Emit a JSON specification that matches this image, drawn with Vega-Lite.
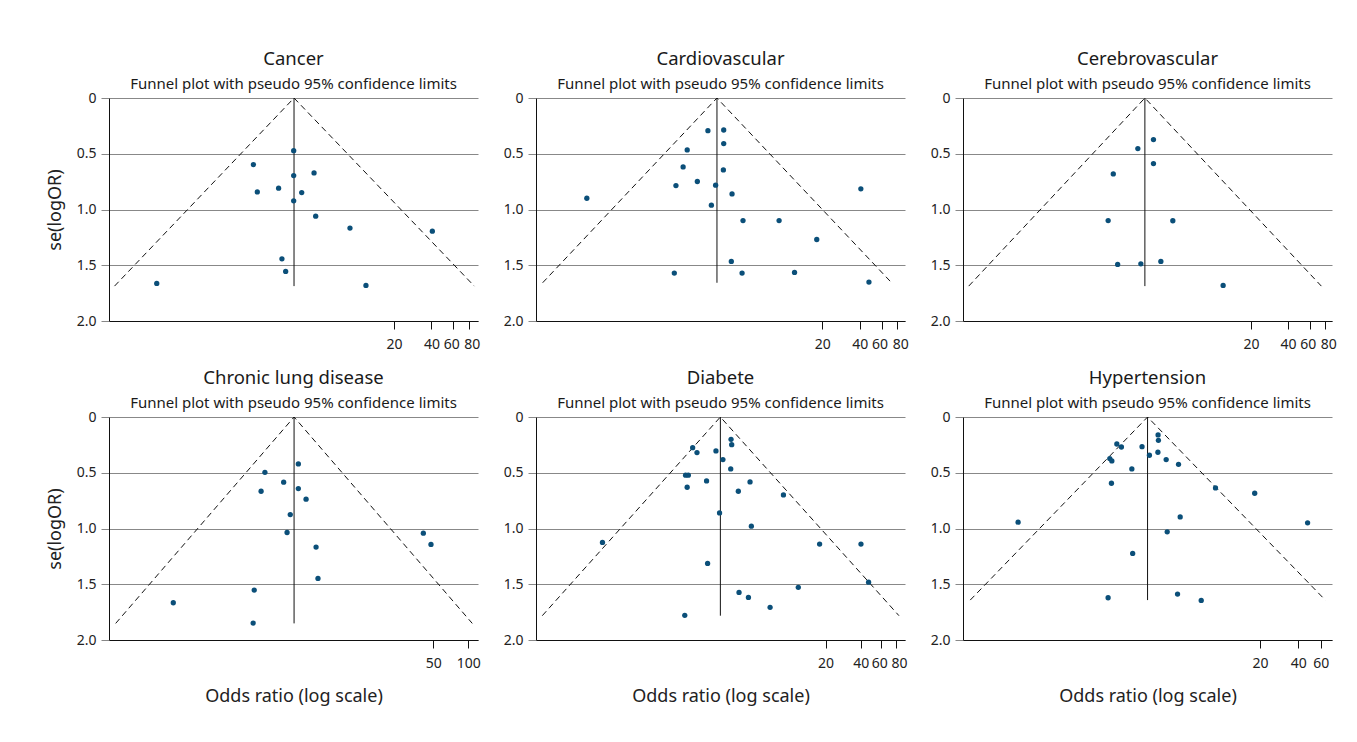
{
  "$schema": "https://vega.github.io/schema/vega-lite/v6.json",
  "background": "white",
  "padding": {"left": 46, "top": 49, "right": 5, "bottom": 5},
  "columns": 3,
  "spacing": {"row": 96, "column": 58},
  "bounds": "flush",
  "config": {
    "font": "Noto Sans",
    "view": {"stroke": null},
    "title": {"anchor": "middle", "frame": "group", "fontSize": 18.5, "fontWeight": "normal", "color": "#1a1a1a", "subtitleFontSize": 15, "subtitleColor": "#1a1a1a", "subtitlePadding": 9, "offset": -1},
    "axis": {"labelFontSize": 14, "labelColor": "#222222", "titleFontSize": 18, "titleFontWeight": "normal", "titleColor": "#222222", "domainColor": "#111111", "tickSize": 8},
    "axisX": {"grid": false, "tickColor": "#111111", "labelPadding": 8, "labelFlush": false, "labelOverlap": false, "titlePadding": 17, "labelOffset": {"condition": [{"test": "datum.value == 60", "value": -2}, {"test": "datum.value == 80", "value": 3}], "value": 0}},
    "axisY": {"grid": true, "gridColor": "#888888", "tickColor": "#888888", "labelPadding": 5, "titlePadding": 12}
  },
  "datasets": {
    "pts": [
      {"p": "Cancer", "or": 3.12, "se": 0.472}, {"p": "Cancer", "or": 1.48, "se": 0.597}, {"p": "Cancer", "or": 1.59, "se": 0.842}, {"p": "Cancer", "or": 2.36, "se": 0.809}, {"p": "Cancer", "or": 3.12, "se": 0.696}, {"p": "Cancer", "or": 4.55, "se": 0.672}, {"p": "Cancer", "or": 3.62, "se": 0.848}, {"p": "Cancer", "or": 3.12, "se": 0.922}, {"p": "Cancer", "or": 4.69, "se": 1.06}, {"p": "Cancer", "or": 8.85, "se": 1.167}, {"p": "Cancer", "or": 40.7, "se": 1.194}, {"p": "Cancer", "or": 2.51, "se": 1.442}, {"p": "Cancer", "or": 2.69, "se": 1.555}, {"p": "Cancer", "or": 0.247, "se": 1.663}, {"p": "Cancer", "or": 11.9, "se": 1.681},
      {"p": "Cardiovascular", "or": 0.258, "se": 0.899}, {"p": "Cardiovascular", "or": 2.42, "se": 0.293}, {"p": "Cardiovascular", "or": 3.24, "se": 0.287}, {"p": "Cardiovascular", "or": 3.24, "se": 0.409}, {"p": "Cardiovascular", "or": 1.65, "se": 0.466}, {"p": "Cardiovascular", "or": 1.53, "se": 0.618}, {"p": "Cardiovascular", "or": 3.22, "se": 0.645}, {"p": "Cardiovascular", "or": 1.34, "se": 0.785}, {"p": "Cardiovascular", "or": 1.99, "se": 0.749}, {"p": "Cardiovascular", "or": 2.79, "se": 0.782}, {"p": "Cardiovascular", "or": 3.78, "se": 0.86}, {"p": "Cardiovascular", "or": 2.58, "se": 0.961}, {"p": "Cardiovascular", "or": 40.9, "se": 0.815}, {"p": "Cardiovascular", "or": 4.63, "se": 1.099}, {"p": "Cardiovascular", "or": 9.02, "se": 1.099}, {"p": "Cardiovascular", "or": 18.1, "se": 1.269}, {"p": "Cardiovascular", "or": 3.73, "se": 1.466}, {"p": "Cardiovascular", "or": 1.3, "se": 1.57}, {"p": "Cardiovascular", "or": 4.55, "se": 1.57}, {"p": "Cardiovascular", "or": 12.0, "se": 1.564}, {"p": "Cardiovascular", "or": 47.5, "se": 1.651},
      {"p": "Cerebrovascular", "or": 3.24, "se": 0.373}, {"p": "Cerebrovascular", "or": 2.42, "se": 0.454}, {"p": "Cerebrovascular", "or": 3.24, "se": 0.588}, {"p": "Cerebrovascular", "or": 1.53, "se": 0.681}, {"p": "Cerebrovascular", "or": 1.39, "se": 1.099}, {"p": "Cerebrovascular", "or": 4.65, "se": 1.101}, {"p": "Cerebrovascular", "or": 1.66, "se": 1.493}, {"p": "Cerebrovascular", "or": 2.56, "se": 1.487}, {"p": "Cerebrovascular", "or": 3.72, "se": 1.466}, {"p": "Cerebrovascular", "or": 11.9, "se": 1.681},
      {"p": "Chronic lung disease", "or": 3.45, "se": 0.421}, {"p": "Chronic lung disease", "or": 1.78, "se": 0.496}, {"p": "Chronic lung disease", "or": 2.58, "se": 0.585}, {"p": "Chronic lung disease", "or": 3.45, "se": 0.642}, {"p": "Chronic lung disease", "or": 1.65, "se": 0.666}, {"p": "Chronic lung disease", "or": 4.02, "se": 0.737}, {"p": "Chronic lung disease", "or": 2.94, "se": 0.875}, {"p": "Chronic lung disease", "or": 2.76, "se": 1.036}, {"p": "Chronic lung disease", "or": 4.9, "se": 1.167}, {"p": "Chronic lung disease", "or": 5.09, "se": 1.448}, {"p": "Chronic lung disease", "or": 41.0, "se": 1.042}, {"p": "Chronic lung disease", "or": 47.7, "se": 1.143}, {"p": "Chronic lung disease", "or": 1.44, "se": 1.552}, {"p": "Chronic lung disease", "or": 0.29, "se": 1.666}, {"p": "Chronic lung disease", "or": 1.41, "se": 1.848},
      {"p": "Diabete", "or": 3.11, "se": 0.2}, {"p": "Diabete", "or": 3.15, "se": 0.248}, {"p": "Diabete", "or": 1.46, "se": 0.275}, {"p": "Diabete", "or": 1.59, "se": 0.319}, {"p": "Diabete", "or": 2.31, "se": 0.304}, {"p": "Diabete", "or": 2.65, "se": 0.382}, {"p": "Diabete", "or": 3.09, "se": 0.466}, {"p": "Diabete", "or": 1.27, "se": 0.522}, {"p": "Diabete", "or": 1.34, "se": 0.522}, {"p": "Diabete", "or": 1.92, "se": 0.573}, {"p": "Diabete", "or": 4.52, "se": 0.582}, {"p": "Diabete", "or": 1.31, "se": 0.63}, {"p": "Diabete", "or": 3.59, "se": 0.666}, {"p": "Diabete", "or": 8.73, "se": 0.699}, {"p": "Diabete", "or": 2.48, "se": 0.86}, {"p": "Diabete", "or": 4.64, "se": 0.979}, {"p": "Diabete", "or": 0.247, "se": 1.125}, {"p": "Diabete", "or": 17.8, "se": 1.14}, {"p": "Diabete", "or": 40.2, "se": 1.14}, {"p": "Diabete", "or": 1.96, "se": 1.313}, {"p": "Diabete", "or": 46.7, "se": 1.481}, {"p": "Diabete", "or": 11.7, "se": 1.528}, {"p": "Diabete", "or": 3.64, "se": 1.573}, {"p": "Diabete", "or": 4.38, "se": 1.618}, {"p": "Diabete", "or": 6.71, "se": 1.707}, {"p": "Diabete", "or": 1.25, "se": 1.779},
      {"p": "Hypertension", "or": 3.18, "se": 0.161}, {"p": "Hypertension", "or": 3.2, "se": 0.209}, {"p": "Hypertension", "or": 1.51, "se": 0.242}, {"p": "Hypertension", "or": 1.64, "se": 0.269}, {"p": "Hypertension", "or": 2.38, "se": 0.266}, {"p": "Hypertension", "or": 2.72, "se": 0.343}, {"p": "Hypertension", "or": 3.17, "se": 0.316}, {"p": "Hypertension", "or": 1.33, "se": 0.373}, {"p": "Hypertension", "or": 1.38, "se": 0.394}, {"p": "Hypertension", "or": 3.68, "se": 0.382}, {"p": "Hypertension", "or": 4.6, "se": 0.424}, {"p": "Hypertension", "or": 1.98, "se": 0.466}, {"p": "Hypertension", "or": 1.37, "se": 0.594}, {"p": "Hypertension", "or": 8.97, "se": 0.636}, {"p": "Hypertension", "or": 18.2, "se": 0.684}, {"p": "Hypertension", "or": 4.74, "se": 0.896}, {"p": "Hypertension", "or": 0.254, "se": 0.943}, {"p": "Hypertension", "or": 47.3, "se": 0.949}, {"p": "Hypertension", "or": 3.75, "se": 1.03}, {"p": "Hypertension", "or": 2.01, "se": 1.224}, {"p": "Hypertension", "or": 1.29, "se": 1.621}, {"p": "Hypertension", "or": 4.52, "se": 1.588}, {"p": "Hypertension", "or": 6.93, "se": 1.645}
    ],
    "lines": [
      {"p": "Cancer", "g": "funnel", "k": 1, "or": 0.113, "se": 1.687}, {"p": "Cancer", "g": "funnel", "k": 2, "or": 3.14, "se": 0}, {"p": "Cancer", "g": "funnel", "k": 3, "or": 88.5, "se": 1.687}, {"p": "Cancer", "g": "pooled", "k": 1, "or": 3.14, "se": 0}, {"p": "Cancer", "g": "pooled", "k": 2, "or": 3.14, "se": 1.687},
      {"p": "Cardiovascular", "g": "funnel", "k": 1, "or": 0.114, "se": 1.657}, {"p": "Cardiovascular", "g": "funnel", "k": 2, "or": 2.86, "se": 0}, {"p": "Cardiovascular", "g": "funnel", "k": 3, "or": 72.2, "se": 1.657}, {"p": "Cardiovascular", "g": "pooled", "k": 1, "or": 2.86, "se": 0}, {"p": "Cardiovascular", "g": "pooled", "k": 2, "or": 2.86, "se": 1.657},
      {"p": "Cerebrovascular", "g": "funnel", "k": 1, "or": 0.1028, "se": 1.687}, {"p": "Cerebrovascular", "g": "funnel", "k": 2, "or": 2.76, "se": 0}, {"p": "Cerebrovascular", "g": "funnel", "k": 3, "or": 74.5, "se": 1.687}, {"p": "Cerebrovascular", "g": "pooled", "k": 1, "or": 2.76, "se": 0}, {"p": "Cerebrovascular", "g": "pooled", "k": 2, "or": 2.76, "se": 1.687},
      {"p": "Chronic lung disease", "g": "funnel", "k": 1, "or": 0.0927, "se": 1.851}, {"p": "Chronic lung disease", "g": "funnel", "k": 2, "or": 3.17, "se": 0}, {"p": "Chronic lung disease", "g": "funnel", "k": 3, "or": 108, "se": 1.851}, {"p": "Chronic lung disease", "g": "pooled", "k": 1, "or": 3.17, "se": 0}, {"p": "Chronic lung disease", "g": "pooled", "k": 2, "or": 3.17, "se": 1.851},
      {"p": "Diabete", "g": "funnel", "k": 1, "or": 0.0755, "se": 1.782}, {"p": "Diabete", "g": "funnel", "k": 2, "or": 2.52, "se": 0}, {"p": "Diabete", "g": "funnel", "k": 3, "or": 85.0, "se": 1.782}, {"p": "Diabete", "g": "pooled", "k": 1, "or": 2.52, "se": 0}, {"p": "Diabete", "g": "pooled", "k": 2, "or": 2.52, "se": 1.782},
      {"p": "Hypertension", "g": "funnel", "k": 1, "or": 0.107, "se": 1.642}, {"p": "Hypertension", "g": "funnel", "k": 2, "or": 2.63, "se": 0}, {"p": "Hypertension", "g": "funnel", "k": 3, "or": 65.1, "se": 1.642}, {"p": "Hypertension", "g": "pooled", "k": 1, "or": 2.63, "se": 0}, {"p": "Hypertension", "g": "pooled", "k": 2, "or": 2.63, "se": 1.642}
    ]
  },
  "concat": [
    {
      "width": 369, "height": 223,
      "title": {"text": "Cancer", "subtitle": "Funnel plot with pseudo 95% confidence limits"},
      "encoding": {
        "x": {"field": "or", "type": "quantitative", "scale": {"type": "log", "domain": [0.102, 94.8], "nice": false}, "axis": {"values": [20, 40, 60, 80], "title": null}},
        "y": {"field": "se", "type": "quantitative", "scale": {"domain": [0, 2], "reverse": true, "nice": false}, "axis": {"values": [0, 0.5, 1, 1.5, 2], "labelExpr": "datum.value == 0 ? '0' : format(datum.value, '.1f')", "title": "se(logOR)"}}
      },
      "layer": [
        {"data": {"name": "lines"}, "transform": [{"filter": "datum.p == 'Cancer' && datum.g == 'funnel'"}], "mark": {"type": "line", "color": "#111111", "strokeWidth": 1, "strokeDash": [6, 4]}, "encoding": {"order": {"field": "k"}}},
        {"data": {"name": "lines"}, "transform": [{"filter": "datum.p == 'Cancer' && datum.g == 'pooled'"}], "mark": {"type": "line", "color": "#111111", "strokeWidth": 1}, "encoding": {"order": {"field": "k"}}},
        {"data": {"name": "pts"}, "transform": [{"filter": "datum.p == 'Cancer'"}], "mark": {"type": "circle", "color": "#0b4f79", "opacity": 1, "size": 28}}
      ]
    },
    {
      "width": 369, "height": 223,
      "title": {"text": "Cardiovascular", "subtitle": "Funnel plot with pseudo 95% confidence limits"},
      "encoding": {
        "x": {"field": "or", "type": "quantitative", "scale": {"type": "log", "domain": [0.1008, 92.5], "nice": false}, "axis": {"values": [20, 40, 60, 80], "title": null}},
        "y": {"field": "se", "type": "quantitative", "scale": {"domain": [0, 2], "reverse": true, "nice": false}, "axis": {"values": [0, 0.5, 1, 1.5, 2], "labelExpr": "datum.value == 0 ? '0' : format(datum.value, '.1f')", "title": null}}
      },
      "layer": [
        {"data": {"name": "lines"}, "transform": [{"filter": "datum.p == 'Cardiovascular' && datum.g == 'funnel'"}], "mark": {"type": "line", "color": "#111111", "strokeWidth": 1, "strokeDash": [6, 4]}, "encoding": {"order": {"field": "k"}}},
        {"data": {"name": "lines"}, "transform": [{"filter": "datum.p == 'Cardiovascular' && datum.g == 'pooled'"}], "mark": {"type": "line", "color": "#111111", "strokeWidth": 1}, "encoding": {"order": {"field": "k"}}},
        {"data": {"name": "pts"}, "transform": [{"filter": "datum.p == 'Cardiovascular'"}], "mark": {"type": "circle", "color": "#0b4f79", "opacity": 1, "size": 28}}
      ]
    },
    {
      "width": 369, "height": 223,
      "title": {"text": "Cerebrovascular", "subtitle": "Funnel plot with pseudo 95% confidence limits"},
      "encoding": {
        "x": {"field": "or", "type": "quantitative", "scale": {"type": "log", "domain": [0.0924, 90.9], "nice": false}, "axis": {"values": [20, 40, 60, 80], "title": null}},
        "y": {"field": "se", "type": "quantitative", "scale": {"domain": [0, 2], "reverse": true, "nice": false}, "axis": {"values": [0, 0.5, 1, 1.5, 2], "labelExpr": "datum.value == 0 ? '0' : format(datum.value, '.1f')", "title": null}}
      },
      "layer": [
        {"data": {"name": "lines"}, "transform": [{"filter": "datum.p == 'Cerebrovascular' && datum.g == 'funnel'"}], "mark": {"type": "line", "color": "#111111", "strokeWidth": 1, "strokeDash": [6, 4]}, "encoding": {"order": {"field": "k"}}},
        {"data": {"name": "lines"}, "transform": [{"filter": "datum.p == 'Cerebrovascular' && datum.g == 'pooled'"}], "mark": {"type": "line", "color": "#111111", "strokeWidth": 1}, "encoding": {"order": {"field": "k"}}},
        {"data": {"name": "pts"}, "transform": [{"filter": "datum.p == 'Cerebrovascular'"}], "mark": {"type": "circle", "color": "#0b4f79", "opacity": 1, "size": 28}}
      ]
    },
    {
      "width": 369, "height": 223,
      "title": {"text": "Chronic lung disease", "subtitle": "Funnel plot with pseudo 95% confidence limits"},
      "encoding": {
        "x": {"field": "or", "type": "quantitative", "scale": {"type": "log", "domain": [0.0812, 121], "nice": false}, "axis": {"values": [50, 100], "title": "Odds ratio (log scale)"}},
        "y": {"field": "se", "type": "quantitative", "scale": {"domain": [0, 2], "reverse": true, "nice": false}, "axis": {"values": [0, 0.5, 1, 1.5, 2], "labelExpr": "datum.value == 0 ? '0' : format(datum.value, '.1f')", "title": "se(logOR)"}}
      },
      "layer": [
        {"data": {"name": "lines"}, "transform": [{"filter": "datum.p == 'Chronic lung disease' && datum.g == 'funnel'"}], "mark": {"type": "line", "color": "#111111", "strokeWidth": 1, "strokeDash": [6, 4]}, "encoding": {"order": {"field": "k"}}},
        {"data": {"name": "lines"}, "transform": [{"filter": "datum.p == 'Chronic lung disease' && datum.g == 'pooled'"}], "mark": {"type": "line", "color": "#111111", "strokeWidth": 1}, "encoding": {"order": {"field": "k"}}},
        {"data": {"name": "pts"}, "transform": [{"filter": "datum.p == 'Chronic lung disease'"}], "mark": {"type": "circle", "color": "#0b4f79", "opacity": 1, "size": 28}}
      ]
    },
    {
      "width": 369, "height": 223,
      "title": {"text": "Diabete", "subtitle": "Funnel plot with pseudo 95% confidence limits"},
      "encoding": {
        "x": {"field": "or", "type": "quantitative", "scale": {"type": "log", "domain": [0.0667, 95.7], "nice": false}, "axis": {"values": [20, 40, 60, 80], "title": "Odds ratio (log scale)"}},
        "y": {"field": "se", "type": "quantitative", "scale": {"domain": [0, 2], "reverse": true, "nice": false}, "axis": {"values": [0, 0.5, 1, 1.5, 2], "labelExpr": "datum.value == 0 ? '0' : format(datum.value, '.1f')", "title": null}}
      },
      "layer": [
        {"data": {"name": "lines"}, "transform": [{"filter": "datum.p == 'Diabete' && datum.g == 'funnel'"}], "mark": {"type": "line", "color": "#111111", "strokeWidth": 1, "strokeDash": [6, 4]}, "encoding": {"order": {"field": "k"}}},
        {"data": {"name": "lines"}, "transform": [{"filter": "datum.p == 'Diabete' && datum.g == 'pooled'"}], "mark": {"type": "line", "color": "#111111", "strokeWidth": 1}, "encoding": {"order": {"field": "k"}}},
        {"data": {"name": "pts"}, "transform": [{"filter": "datum.p == 'Diabete'"}], "mark": {"type": "circle", "color": "#0b4f79", "opacity": 1, "size": 28}}
      ]
    },
    {
      "width": 369, "height": 223,
      "title": {"text": "Hypertension", "subtitle": "Funnel plot with pseudo 95% confidence limits"},
      "encoding": {
        "x": {"field": "or", "type": "quantitative", "scale": {"type": "log", "domain": [0.0939, 73.5], "nice": false}, "axis": {"values": [20, 40, 60], "title": "Odds ratio (log scale)", "labelOffset": 0}},
        "y": {"field": "se", "type": "quantitative", "scale": {"domain": [0, 2], "reverse": true, "nice": false}, "axis": {"values": [0, 0.5, 1, 1.5, 2], "labelExpr": "datum.value == 0 ? '0' : format(datum.value, '.1f')", "title": null}}
      },
      "layer": [
        {"data": {"name": "lines"}, "transform": [{"filter": "datum.p == 'Hypertension' && datum.g == 'funnel'"}], "mark": {"type": "line", "color": "#111111", "strokeWidth": 1, "strokeDash": [6, 4]}, "encoding": {"order": {"field": "k"}}},
        {"data": {"name": "lines"}, "transform": [{"filter": "datum.p == 'Hypertension' && datum.g == 'pooled'"}], "mark": {"type": "line", "color": "#111111", "strokeWidth": 1}, "encoding": {"order": {"field": "k"}}},
        {"data": {"name": "pts"}, "transform": [{"filter": "datum.p == 'Hypertension'"}], "mark": {"type": "circle", "color": "#0b4f79", "opacity": 1, "size": 28}}
      ]
    }
  ]
}
